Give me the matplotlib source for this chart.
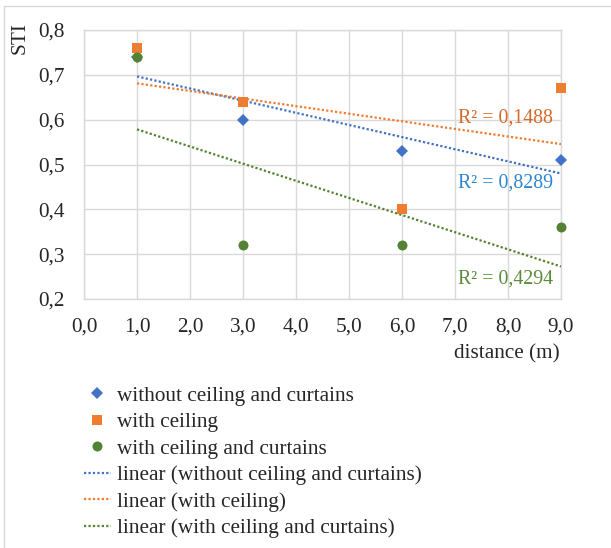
import numpy as np
import matplotlib
matplotlib.use("Agg")
from matplotlib import pyplot as plt
from matplotlib.lines import Line2D

plt.rcParams['font.family'] = ['Liberation Serif', 'DejaVu Serif']

# data
distance = [1, 3, 6, 9]
without_ceiling = [0.74, 0.60, 0.53, 0.51]
with_ceiling = [0.76, 0.64, 0.40, 0.67]
ceiling_curtains = [0.74, 0.32, 0.32, 0.36]

names = ['without ceiling and curtains', 'with ceiling', 'with ceiling and curtains']
colors = ['#4472C4', '#ED7D31', '#548235']
text_colors = ['#2E86D1', '#D46A2A', '#5B8C3A']
markers = ['D', 's', 'o']
msizes = [6.0, 6.8, 7.2]
# where the R² labels sit (data coords)
r2_pos = [(7.95, 0.459), (7.95, 0.604), (7.95, 0.245)]

xticks = np.arange(0, 10, 1)
yticks = np.arange(0.2, 0.81, 0.1)
fs = 15.3

fig = plt.figure(figsize=(6.11, 5.48), dpi=100)
ax = fig.add_axes([84/611, 1-299/548, (561-84)/611, (299-30)/548])

series = [without_ceiling, with_ceiling, ceiling_curtains]
pts = []
lines = []
x = np.array(distance, dtype=float)
for ys, c, m, ms in zip(series, colors, markers, msizes):
    p, = ax.plot(distance, ys, linestyle='none', marker=m, color=c, markersize=ms,
                 markeredgewidth=0, zorder=4, clip_on=False)
    pts.append(p)

for ys, c, tc, pos in zip(series, colors, text_colors, r2_pos):
    y = np.array(ys)
    k, b = np.polyfit(x, y, 1)
    xs = np.array([x.min(), x.max()])
    l, = ax.plot(xs, k*xs + b, color=c, linestyle=(0, (1, 1)), linewidth=1.6, zorder=3)
    lines.append(l)
    r2 = 1 - np.sum((y - (k*x + b))**2) / np.sum((y - y.mean())**2)
    ax.text(pos[0], pos[1], 'R² = ' + f'{r2:.4f}'.replace('.', ','), color=tc,
            fontsize=14.3, ha='center', va='center', zorder=5)

ax.set_xlim(0, 9)
ax.set_ylim(0.2, 0.8)
ax.set_xticks(xticks)
ax.set_xticklabels([f'{v:.1f}'.replace('.', ',') for v in xticks])
ax.set_yticks(yticks)
ax.set_yticklabels([f'{v:.1f}'.replace('.', ',') for v in yticks])
ax.tick_params(length=0, labelsize=fs, colors='#262626')
ax.tick_params(axis='x', pad=13.5)
ax.tick_params(axis='y', pad=14)
ax.grid(True, color='#D9D9D9', linewidth=1)
ax.set_axisbelow(True)
for s in ax.spines.values():
    s.set_color('#D9D9D9')
    s.set_linewidth(1)

fig.text(20/611, 1-38/548, 'STI', rotation=90, fontsize=fs, ha='center', va='center',
         color='#262626')
fig.text(560/611, 1-354/548, 'distance (m)', fontsize=fs, ha='right', va='center',
         color='#262626')

labels = names + ['linear (' + n + ')' for n in names]
fig.legend(pts + lines, labels, loc='upper left', bbox_to_anchor=(84/611, 1-386/548),
           frameon=False, fontsize=fs, handlelength=1.25, handletextpad=0.3,
           labelspacing=0.31, borderaxespad=0, borderpad=0, labelcolor='#262626')

# outer chart border (left and top edges visible)
fig.add_artist(Line2D([4/611, 4/611, 1], [0, 1-6/548, 1-6/548],
                      transform=fig.transFigure, color='#D9D9D9', linewidth=1))

fig.savefig('out.png', dpi=100)
plt.close(fig)
